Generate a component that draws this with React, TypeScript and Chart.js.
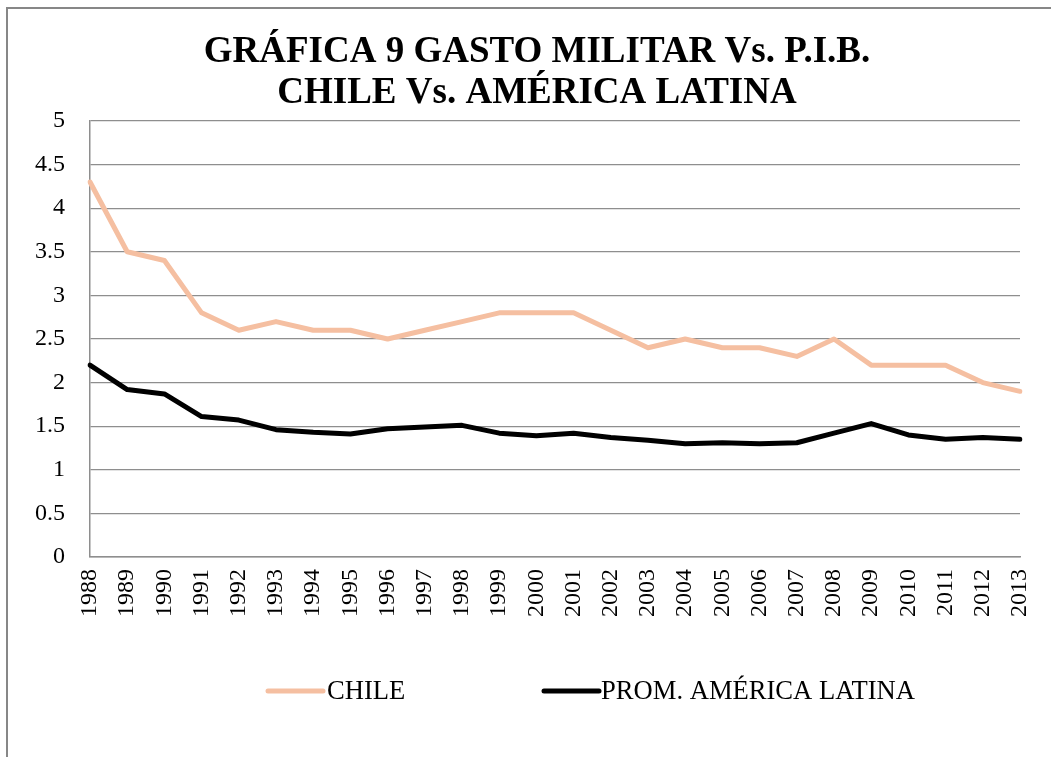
import React, { useEffect, useRef } from "react";
import { Chart, registerables } from "chart.js";

Chart.register(...registerables);

const years = [
  "1988", "1989", "1990", "1991", "1992", "1993", "1994", "1995", "1996",
  "1997", "1998", "1999", "2000", "2001", "2002", "2003", "2004", "2005",
  "2006", "2007", "2008", "2009", "2010", "2011", "2012", "2013",
];

const chile = [
  4.3, 3.5, 3.4, 2.8, 2.6, 2.7, 2.6, 2.6, 2.5, 2.6, 2.7, 2.8, 2.8, 2.8, 2.6,
  2.4, 2.5, 2.4, 2.4, 2.3, 2.5, 2.2, 2.2, 2.2, 2.0, 1.9,
];

const latam = [
  2.2, 1.92, 1.87, 1.61, 1.57, 1.46, 1.43, 1.41, 1.47, 1.49, 1.51, 1.42, 1.39,
  1.42, 1.37, 1.34, 1.3, 1.31, 1.3, 1.31, 1.42, 1.53, 1.4, 1.35, 1.37, 1.35,
];

const seriesNames = ["CHILE", "PROM. AMÉRICA LATINA"];
const titleLines = ["GRÁFICA 9 GASTO MILITAR Vs. P.I.B.", "CHILE Vs. AMÉRICA LATINA"];

const CHILE_COLOR = "#F5BFA1";
const LATAM_COLOR = "#000000";
const GRID = "#8E8E8E";
const FONT = "'Liberation Serif', 'Times New Roman', serif";

const W = 1051;
const H = 757;

const titlePlugin = {
  id: "customTitle",
  afterDraw(chart: any) {
    const ctx = chart.ctx;
    ctx.save();
    ctx.fillStyle = "#000";
    ctx.font = `bold 37px ${FONT}`;
    ctx.textAlign = "center";
    ctx.textBaseline = "alphabetic";
    const cx = 537;
    const baselines = [62, 103];
    titleLines.forEach((line, i) => ctx.fillText(line, cx, baselines[i]));
    ctx.restore();
  },
};

const legendPlugin = {
  id: "customLegend",
  afterDraw(chart: any) {
    const ctx = chart.ctx;
    const y = 691;
    const items = [
      { x0: 268, x1: 323, tx: 327 },
      { x0: 544, x1: 599, tx: 601 },
    ];
    ctx.save();
    chart.data.datasets.forEach((ds: any, i: number) => {
      const it = items[i];
      ctx.strokeStyle = ds.borderColor;
      ctx.lineWidth = 5;
      ctx.lineCap = "round";
      ctx.beginPath();
      ctx.moveTo(it.x0, y);
      ctx.lineTo(it.x1, y);
      ctx.stroke();
      ctx.fillStyle = "#000";
      ctx.font = `26.6px ${FONT}`;
      ctx.textBaseline = "middle";
      ctx.textAlign = "left";
      ctx.fillText(ds.label, it.tx, y + 1);
    });
    ctx.restore();
  },
};

export default function App() {
  const ref = useRef<HTMLCanvasElement>(null);

  useEffect(() => {
    document.body.style.margin = "0";
    const canvas = ref.current!;
    const chart = new Chart(canvas, {
      type: "line",
      data: {
        labels: years,
        datasets: [
          {
            label: seriesNames[0],
            data: chile,
            borderColor: CHILE_COLOR,
            backgroundColor: CHILE_COLOR,
            borderWidth: 5,
            pointRadius: 0,
            tension: 0,
            borderJoinStyle: "round",
            borderCapStyle: "round",
          },
          {
            label: seriesNames[1],
            data: latam,
            borderColor: LATAM_COLOR,
            backgroundColor: LATAM_COLOR,
            borderWidth: 5,
            pointRadius: 0,
            tension: 0,
            borderJoinStyle: "round",
            borderCapStyle: "round",
          },
        ],
      },
      options: {
        responsive: false,
        animation: false,
        devicePixelRatio: 1,
        layout: { padding: { left: 0, right: W - 1020, top: 121, bottom: 0 } },
        plugins: {
          legend: { display: false },
          tooltip: { enabled: false },
          title: { display: false },
        },
        scales: {
          x: {
            type: "category",
            offset: false,
            grid: { display: false, drawTicks: false },
            border: { display: true, color: GRID, width: 1.5 },
            ticks: {
              color: "#000",
              font: { family: FONT, size: 24 },
              minRotation: 90,
              maxRotation: 90,
              autoSkip: false,
              padding: 12,
            },
            afterFit(scale: any) {
              scale.height = 200;
              scale.paddingLeft = 0;
              scale.paddingRight = 0;
            },
          },
          y: {
            min: 0,
            max: 5,
            grid: { color: GRID, lineWidth: 1.2, drawTicks: false },
            border: { display: true, color: GRID, width: 1.5 },
            ticks: {
              stepSize: 0.5,
              color: "#000",
              font: { family: FONT, size: 24 },
              padding: 25,
              callback: (v: any) => String(v),
            },
            afterFit(scale: any) {
              scale.width = 90;
              scale.paddingTop = 0;
              scale.paddingBottom = 0;
            },
          },
        },
      },
      plugins: [titlePlugin, legendPlugin],
    });
    return () => chart.destroy();
  }, []);

  return (
    <div
      style={{
        position: "fixed",
        left: 0,
        top: 0,
        width: 1051,
        height: 757,
        overflow: "hidden",
        background: "#fff",
      }}
    >
      <div
        style={{
          position: "absolute",
          left: 6,
          top: 7,
          width: 2000,
          height: 2000,
          borderLeft: "2px solid #878787",
          borderTop: "2px solid #878787",
        }}
      />
      <canvas
        ref={ref}
        width={W}
        height={H}
        style={{ position: "absolute", left: 0, top: 0, width: W, height: H }}
      />
    </div>
  );
}
